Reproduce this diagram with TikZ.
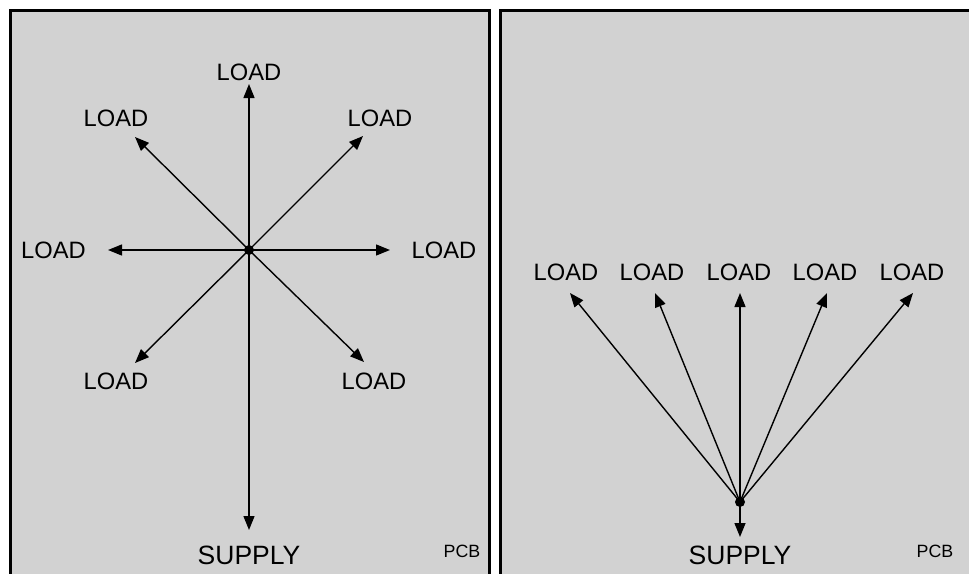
\documentclass[tikz,border=0pt]{standalone}
\usepackage{fontspec}
\setmainfont{Liberation Sans}
\usetikzlibrary{arrows.meta}
\begin{document}
\begin{tikzpicture}[x=1pt,y=-1pt,
  panel/.style={draw=black,line width=3pt,fill=gray!35},
  conn/.style={line width=1.4pt,-{Triangle[length=14pt,width=11pt]}},
  dotnode/.style={circle,fill=black,inner sep=0pt,minimum size=10pt},
  loadlbl/.style={inner sep=0pt,font=\fontsize{23.7}{28}\selectfont},
  supplbl/.style={inner sep=0pt,font=\fontsize{26.5}{30}\selectfont},
  pcblbl/.style={inner sep=0pt,font=\fontsize{17.8}{21}\selectfont}]
\useasboundingbox (0,0) rectangle (969,573);
\clip (0,0) rectangle (969,573);
\fill[white] (0,0) rectangle (969,573);
\draw[panel] (10,10.5) rectangle (489,620);
\draw[panel] (500.5,10.5) rectangle (1020,620);
% left panel
\coordinate (c1) at (249,250);
\coordinate (tu) at (249,84);
\coordinate (td) at (249,530);
\coordinate (tl) at (108,250);
\coordinate (tr) at (390,250);
\coordinate (tul) at (135,137);
\coordinate (tur) at (363,136);
\coordinate (tll) at (135,363);
\coordinate (tlr) at (364,362);
\foreach \t in {tu,td,tl,tr,tul,tur,tll,tlr}{\draw[conn] (c1) -- (\t);}
\node[dotnode] (d1) at (c1) {};
\node[loadlbl] (lu) at (249,72) {LOAD};
\node[loadlbl] (lul) at (116,118) {LOAD};
\node[loadlbl] (lur) at (380,118) {LOAD};
\node[loadlbl] (ll) at (53.5,250) {LOAD};
\node[loadlbl] (lr) at (444,250) {LOAD};
\node[loadlbl] (lll) at (116,381) {LOAD};
\node[loadlbl] (llr) at (374,381) {LOAD};
\node[supplbl] (s1) at (249,555) {SUPPLY};
\node[pcblbl] (p1) at (462,551) {PCB};
% right panel
\coordinate (c2) at (740,502);
\coordinate (r1) at (570,293);
\coordinate (r2) at (655,293);
\coordinate (r3) at (740,293);
\coordinate (r4) at (827,293);
\coordinate (r5) at (913,293);
\coordinate (rd) at (740,537);
\foreach \t in {r1,r2,r3,r4,r5,rd}{\draw[conn] (c2) -- (\t);}
\node[dotnode] (d2) at (c2) {};
\node[loadlbl] (q1) at (566,272) {LOAD};
\node[loadlbl] (q2) at (652,272) {LOAD};
\node[loadlbl] (q3) at (739,272) {LOAD};
\node[loadlbl] (q4) at (825,272) {LOAD};
\node[loadlbl] (q5) at (912,272) {LOAD};
\node[supplbl] (s2) at (740,555) {SUPPLY};
\node[pcblbl] (p2) at (935,551) {PCB};
\end{tikzpicture}
\end{document}
